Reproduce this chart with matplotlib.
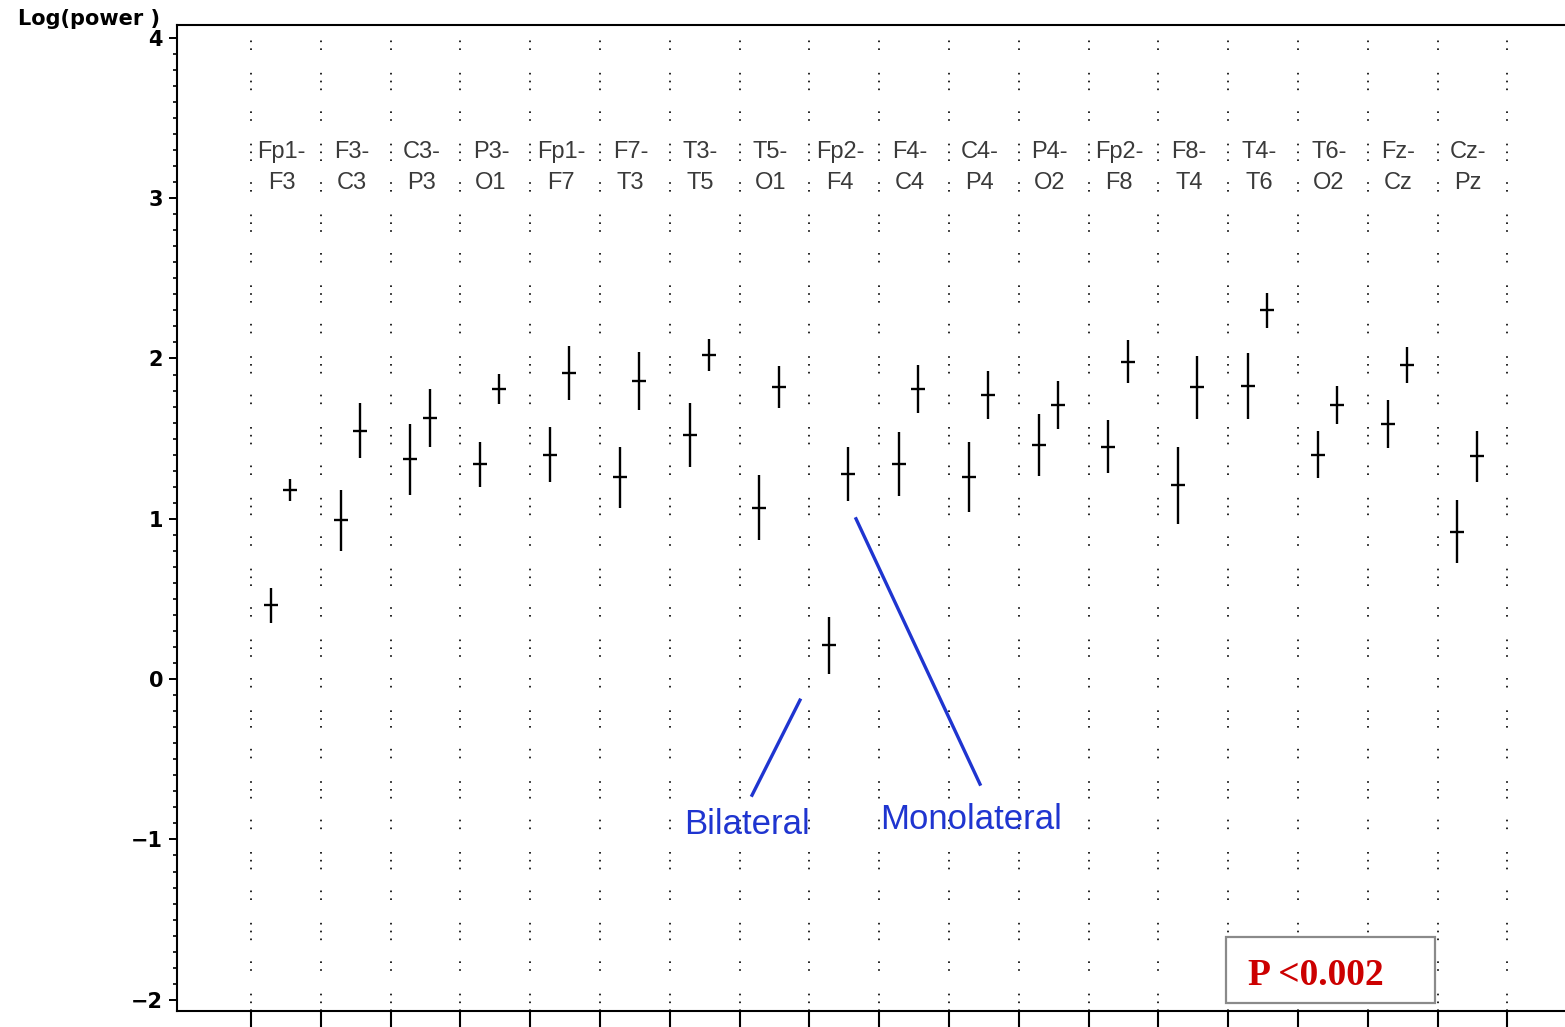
import matplotlib.pyplot as plt
from matplotlib.patches import Rectangle
from matplotlib.ticker import MultipleLocator

pairs_top = ["Fp1-", "F3-", "C3-", "P3-", "Fp1-", "F7-", "T3-", "T5-", "Fp2-",
             "F4-", "C4-", "P4-", "Fp2-", "F8-", "T4-", "T6-", "Fz-", "Cz-"]
pairs_bottom = ["F3", "C3", "P3", "O1", "F7", "T3", "T5", "O1", "F4",
                "C4", "P4", "O2", "F8", "T4", "T6", "O2", "Cz", "Pz"]

bilateral_mean = [0.46, 0.99, 1.37, 1.34, 1.40, 1.26, 1.52, 1.07, 0.21,
                  1.34, 1.26, 1.46, 1.45, 1.21, 1.83, 1.40, 1.59, 0.92]
bilateral_err = [0.11, 0.19, 0.22, 0.14, 0.17, 0.19, 0.20, 0.205, 0.18,
                 0.20, 0.22, 0.195, 0.165, 0.24, 0.205, 0.145, 0.15, 0.195]
mono_mean = [1.18, 1.55, 1.63, 1.81, 1.91, 1.86, 2.02, 1.82, 1.28,
             1.81, 1.77, 1.71, 1.98, 1.82, 2.30, 1.71, 1.96, 1.39]
mono_err = [0.07, 0.17, 0.18, 0.095, 0.17, 0.18, 0.10, 0.13, 0.17,
            0.15, 0.15, 0.15, 0.135, 0.195, 0.11, 0.12, 0.11, 0.16]

fig = plt.figure(figsize=(15.65, 10.27), dpi=100)
ax = fig.add_axes([177 / 1565, 1 - 1011 / 1027, 1 - 177 / 1565, (1011 - 25) / 1027])

n = len(pairs_top)
# separator lines at integer positions 0..n
for k in range(n + 1):
    ax.axvline(k, color="black", lw=1.2,
               dashes=(1, 3.7, 1, 3.7, 1, 13.7, 1, 3.7, 1, 12.7), zorder=1)

xb = [i + 0.285 for i in range(n)]
xm = [i + 0.56 for i in range(n)]
ax.errorbar(xb, bilateral_mean, yerr=bilateral_err, fmt="_", color="black",
            ecolor="black", elinewidth=1.7, markersize=10, mew=1.7, zorder=3)
ax.errorbar(xm, mono_mean, yerr=mono_err, fmt="_", color="black",
            ecolor="black", elinewidth=1.7, markersize=10, mew=1.7, zorder=3)

for i in range(n):
    ax.text(i + 0.44, 3.25, pairs_top[i], ha="center", va="baseline",
            fontsize=17, family="Liberation Sans", color="#3a3a3a")
    ax.text(i + 0.44, 3.06, pairs_bottom[i], ha="center", va="baseline",
            fontsize=17, family="Liberation Sans", color="#3a3a3a")

# annotations
blue = "#1f35d0"
ax.plot([7.865, 7.178], [-0.131, -0.724], color=blue, lw=2.4, zorder=4)
ax.plot([8.668, 10.444], [1.0, -0.655], color=blue, lw=2.4, zorder=4)
ax.text(6.20, -0.967, "Bilateral", color=blue, fontsize=25, family="Liberation Sans",
        va="baseline", ha="left")
ax.text(9.01, -0.936, "Monolateral", color=blue, fontsize=25, family="Liberation Sans",
        va="baseline", ha="left")

ax.add_patch(Rectangle((13.968, -2.021), 2.995, 0.412, facecolor="white",
                       edgecolor="#8a8a8a", lw=1.6, zorder=5))
ax.text(14.28, -1.909, "P <0.002", color="#cc0000", fontsize=27, fontweight="bold",
        family="Liberation Serif", va="baseline", ha="left", zorder=6)

x0 = (177 - 251) / 69.8
ax.set_xlim(x0, x0 + (1565 - 177) / 69.8)
ax.set_ylim(-2.07, 4.08)
ax.set_xticks(range(n + 1))
ax.set_xticklabels([])
ax.tick_params(axis="x", direction="out", length=11.5, width=1.5)
ax.yaxis.set_major_locator(MultipleLocator(1))
ax.yaxis.set_minor_locator(MultipleLocator(0.1))
ax.tick_params(axis="y", which="major", direction="out", length=6, width=1.4, pad=4,
               labelsize=15)
ax.tick_params(axis="y", which="minor", direction="out", length=3, width=1.2)
for lab in ax.get_yticklabels():
    lab.set_fontweight("bold")
ax.spines["right"].set_visible(False)
for s in ["left", "top", "bottom"]:
    ax.spines[s].set_linewidth(1.5)

fig.text(18 / 1565, 1 - 19 / 1027, "Log(power )", fontsize=15, fontweight="bold",
         va="center", ha="left")

plt.savefig("out.png")
